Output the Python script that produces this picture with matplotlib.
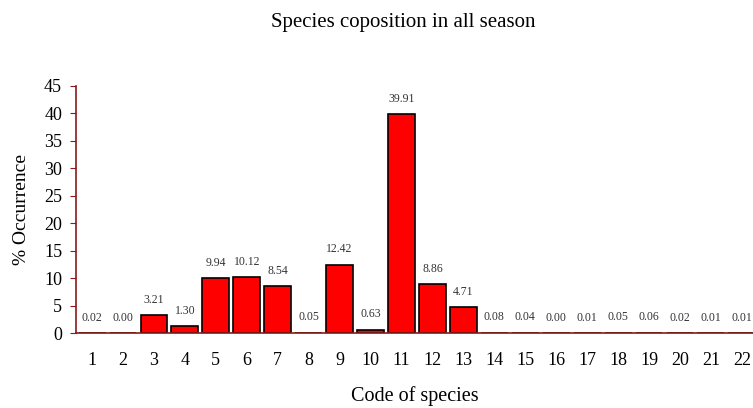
import matplotlib
matplotlib.use("Agg")
import matplotlib.pyplot as plt

codes = list(range(1, 23))
occurrence = [0.02, 0.00, 3.21, 1.30, 9.94, 10.12, 8.54, 0.05, 12.42, 0.63, 39.91,
              8.86, 4.71, 0.08, 0.04, 0.00, 0.01, 0.05, 0.06, 0.02, 0.01, 0.01]
yticks = list(range(0, 50, 5))

plt.rcParams["font.family"] = ["Liberation Serif", "DejaVu Serif"]
axcol = "#8b1a1a"

fig = plt.figure(figsize=(7.53, 4.08), dpi=100)
ax = fig.add_axes([76 / 753, 1 - 333 / 408, (753 - 76) / 753, (333 - 86) / 408])

ax.bar(codes, occurrence, width=0.87, color="red", edgecolor="black", linewidth=1.2, zorder=3)
for c, v in zip(codes, occurrence):
    ax.text(c, v + 1.7, f"{v:.2f}", ha="center", va="bottom", fontsize=8.5, color="#333333")

ax.set_xlim(0.48, 22.36)
ax.set_ylim(0, 45)
ax.set_yticks(yticks)
ax.set_xticks(codes)
ax.tick_params(axis="y", length=4, color=axcol, labelsize=13, pad=6)
ax.tick_params(axis="x", length=0, labelsize=13, pad=14)
for s in ["top", "right"]:
    ax.spines[s].set_visible(False)
for s in ["left", "bottom"]:
    ax.spines[s].set_color(axcol)
    ax.spines[s].set_linewidth(1.2)
    ax.spines[s].set_zorder(4)

ax.set_xlabel("Code of species", fontsize=14.5, labelpad=12)
ax.set_ylabel("% Occurrence", fontsize=14, labelpad=10)
fig.text(403 / 753, 1 - 23 / 408, "Species coposition in all season", ha="center", va="center", fontsize=15)

fig.savefig("out.png", dpi=100)
